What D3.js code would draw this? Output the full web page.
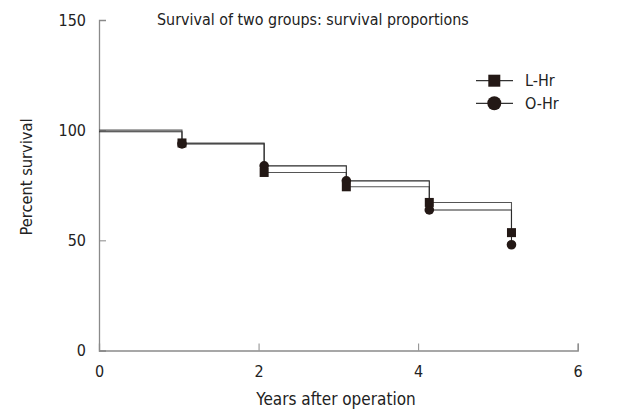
<!DOCTYPE html>
<html><head><meta charset="utf-8">
<script src="https://cdn.jsdelivr.net/npm/d3@7"></script>
<style>body{margin:0;background:#fff}svg{display:block}text{font-family:"DejaVu Sans Condensed","DejaVu Sans",sans-serif;fill:#222}</style>
</head><body><svg id="c" width="630" height="418"></svg>
<script>
const title = "Survival of two groups: survival proportions";
const xLabel = "Years after operation";
const yLabel = "Percent survival";
const xTicks = [0, 2, 4, 6];
const yTicks = [0, 50, 100, 150];
const eventTimes = [0, 1.04, 2.07, 3.1, 4.14, 5.17];
const seriesNames = ["L-Hr", "O-Hr"];
const lhrValues = [100, 94.2, 80.8, 74.3, 67.2, 53.5];
const ohrValues = [99.3, 93.8, 83.8, 77.0, 63.8, 48.0];

const svg = d3.select("#c");
const x = d3.scaleLinear().domain([0, 6]).range([99, 577.7]);
const y = d3.scaleLinear().domain([0, 150]).range([350.5, 20]);
const axisColor = "#8a8a8a";

const gx = svg.append("g").attr("transform", `translate(0,${y(0)})`)
  .call(d3.axisBottom(x).tickValues(xTicks).tickSize(-7).tickPadding(15).tickFormat(d3.format("d")));
const gy = svg.append("g").attr("transform", `translate(${x(0)},0)`)
  .call(d3.axisLeft(y).tickValues(yTicks).tickSize(-7).tickPadding(13).tickFormat(d3.format("d")));
[gx, gy].forEach(g => {
  g.select(".domain").attr("stroke", axisColor).attr("stroke-width", 1.3);
  g.selectAll(".tick line").attr("stroke", axisColor).attr("stroke-width", 1);
  g.selectAll(".tick text").style("font-size", "16px").attr("fill", "#222");
});
gx.selectAll(".tick text").attr("dy", "0.71em");

svg.append("text").attr("x", 157).attr("y", 25).style("font-size", "15.9px").text(title);
svg.append("text").attr("x", 336).attr("y", 405).attr("text-anchor", "middle").style("font-size", "17px").text(xLabel);
svg.append("text").attr("transform", `translate(32,177) rotate(-90)`).attr("text-anchor", "middle").style("font-size", "16.3px").text(yLabel);

const series = [
  {name: seriesNames[0], values: lhrValues, color: "#555", shape: "square"},
  {name: seriesNames[1], values: ohrValues, color: "#2a2a2a", shape: "circle"}
];

const line = d3.line().x(d => x(d.t)).y(d => y(d.v)).curve(d3.curveStepAfter);
series.forEach(s => {
  const pts = eventTimes.map((t, i) => ({t, v: s.values[i]}));
  svg.append("path").datum(pts).attr("d", line).attr("fill", "none")
    .attr("stroke", s.color).attr("stroke-width", 1.1);
});
const mColor = "#231815";
series.slice().reverse().forEach(s => {
  const pts = eventTimes.slice(1).map((t, i) => ({t, v: s.values[i + 1]}));
  if (s.shape === "square") {
    svg.append("g").selectAll("rect").data(pts).join("rect")
      .attr("x", d => x(d.t) - 4.5).attr("y", d => y(d.v) - 4.5)
      .attr("width", 9).attr("height", 9).attr("fill", mColor);
  } else {
    svg.append("g").selectAll("circle").data(pts).join("circle")
      .attr("cx", d => x(d.t)).attr("cy", d => y(d.v)).attr("r", 4.8).attr("fill", mColor);
  }
});

const lg = svg.append("g");
series.forEach((s, i) => {
  const cy = 80.7 + i * 22.6;
  lg.append("line").attr("x1", 476).attr("x2", 513).attr("y1", cy).attr("y2", cy)
    .attr("stroke", "#333").attr("stroke-width", 1.2);
  if (s.shape === "square") {
    lg.append("rect").attr("x", 494.3 - 6).attr("y", cy - 6).attr("width", 12).attr("height", 12).attr("fill", mColor);
  } else {
    lg.append("circle").attr("cx", 494.3).attr("cy", cy).attr("r", 7).attr("fill", mColor);
  }
  lg.append("text").attr("x", 525).attr("y", cy + 5.5).style("font-size", "16px").text(s.name);
});
</script></body></html>
